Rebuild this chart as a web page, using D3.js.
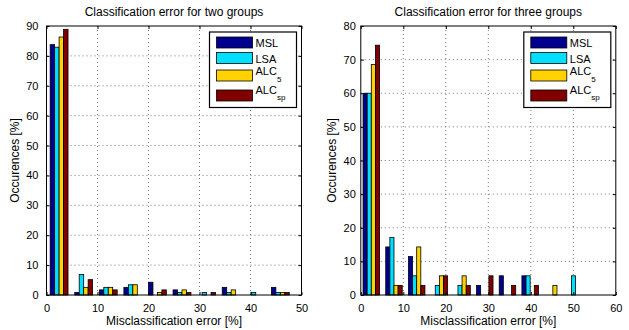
<!DOCTYPE html>
<html>
<head>
<meta charset="utf-8">
<script src="https://cdn.jsdelivr.net/npm/d3@7"></script>
<style>
  body { margin: 0; background: #fff; }
  text { font-family: "Liberation Sans", Arial, sans-serif; fill: #000; }
</style>
</head>
<body>
<div id="chart"></div>
<script>
// series names and colours
const seriesNames = ["MSL", "LSA", "ALC5", "ALCsp"];
const seriesColours = ["#00008f", "#00dfff", "#ffd200", "#800000"];

// two groups: bin centres and occurrences [%]
const twoCentres = [2.47, 7.29, 12.11, 16.93, 21.75, 26.57, 31.39, 36.21, 41.03, 45.85];
const twoMSL   = [83.76, 0.85, 1.71, 2.56, 4.27, 1.71, 0, 2.56, 0, 2.56];
const twoLSA   = [82.91, 6.84, 2.56, 3.42, 0, 0.85, 0.85, 0.85, 0.85, 0.85];
const twoALC5  = [86.32, 2.56, 2.56, 3.42, 0.85, 1.71, 0, 1.71, 0, 0.85];
const twoALCsp = [88.89, 5.13, 1.71, 0, 1.71, 0.85, 0.85, 0, 0, 0.85];
const twoXTicks = [0, 10, 20, 30, 40, 50];
const twoYTicks = [0, 10, 20, 30, 40, 50, 60, 70, 80, 90];

// three groups
const threeCentres = [2.47, 7.81, 13.15, 18.49, 23.83, 29.17, 34.51, 39.85, 45.19, 50.53];
const threeMSL   = [60, 14.29, 11.43, 0, 0, 2.86, 5.71, 5.71, 0, 0];
const threeLSA   = [60, 17.14, 5.71, 2.86, 2.86, 0, 0, 5.71, 0, 5.71];
const threeALC5  = [68.57, 2.86, 14.29, 5.71, 5.71, 0, 0, 0, 2.86, 0];
const threeALCsp = [74.29, 2.86, 2.86, 5.71, 2.86, 5.71, 2.86, 2.86, 0, 0];
const threeXTicks = [0, 10, 20, 30, 40, 50, 60];
const threeYTicks = [0, 10, 20, 30, 40, 50, 60, 70, 80];

const svg = d3.select("#chart").append("svg")
    .attr("width", 629)
    .attr("height", 330);

function drawPanel(p) {
  let x = d3.scaleLinear().domain([0, p.xTicks[p.xTicks.length - 1]]).range([p.left, p.right]);
  let y = d3.scaleLinear().domain([0, p.yTicks[p.yTicks.length - 1]]).range([p.bottom, p.top]);
  let g = svg.append("g");

  // grid (dotted)
  g.selectAll(".vgrid").data(p.xTicks.slice(1, -1)).enter().append("line")
      .attr("x1", d => x(d)).attr("x2", d => x(d))
      .attr("y1", p.top).attr("y2", p.bottom)
      .attr("stroke", "#555").attr("stroke-width", 0.8).attr("stroke-dasharray", "1,3");
  g.selectAll(".hgrid").data(p.yTicks.slice(1, -1)).enter().append("line")
      .attr("y1", d => y(d)).attr("y2", d => y(d))
      .attr("x1", p.left).attr("x2", p.right)
      .attr("stroke", "#555").attr("stroke-width", 0.8).attr("stroke-dasharray", "1,3");

  // bars (grouped, touching)
  let binWidth = p.centres[1] - p.centres[0];
  let barW = binWidth * 0.727 / 4;
  p.series.forEach((vals, s) => {
    let pts = vals.map((v, i) => ({ v: v, c: p.centres[i] })).filter(d => d.v > 0);
    g.selectAll(".bar" + s).data(pts).enter().append("rect")
        .attr("x", d => x(d.c + (s - 2) * barW))
        .attr("width", x(barW) - x(0))
        .attr("y", d => y(d.v))
        .attr("height", d => y(0) - y(d.v))
        .attr("fill", seriesColours[s])
        .attr("stroke", "#000").attr("stroke-width", 0.8);
  });

  // frame
  g.append("rect")
      .attr("x", p.left).attr("y", p.top)
      .attr("width", p.right - p.left).attr("height", p.bottom - p.top)
      .attr("fill", "none").attr("stroke", "#000").attr("stroke-width", 1);

  // axes with inward ticks on all sides
  g.append("g").attr("transform", "translate(0," + p.bottom + ")")
      .call(d3.axisBottom(x).tickValues(p.xTicks).tickSizeInner(-3).tickSizeOuter(0).tickPadding(9))
      .call(a => a.select(".domain").remove())
      .call(a => a.selectAll("text").attr("font-size", 11).attr("font-family", "Liberation Sans, Arial"));
  g.append("g").attr("transform", "translate(0," + p.top + ")")
      .call(d3.axisTop(x).tickValues(p.xTicks).tickSizeInner(-3).tickSizeOuter(0).tickFormat(""))
      .call(a => a.select(".domain").remove());
  g.append("g").attr("transform", "translate(" + p.left + ",0)")
      .call(d3.axisLeft(y).tickValues(p.yTicks).tickSizeInner(-3).tickSizeOuter(0).tickPadding(p.yPad))
      .call(a => a.select(".domain").remove())
      .call(a => a.selectAll("text").attr("font-size", 11).attr("font-family", "Liberation Sans, Arial"));
  g.append("g").attr("transform", "translate(" + p.right + ",0)")
      .call(d3.axisRight(y).tickValues(p.yTicks).tickSizeInner(-3).tickSizeOuter(0).tickFormat(""))
      .call(a => a.select(".domain").remove());

  // labels
  let cx = (p.left + p.right) / 2;
  g.append("text").attr("x", cx).attr("y", 16).attr("text-anchor", "middle")
      .attr("font-size", 12).text(p.title);
  g.append("text").attr("x", cx).attr("y", 325).attr("text-anchor", "middle")
      .attr("font-size", 12).text("Misclassification error [%]");
  g.append("text")
      .attr("transform", "translate(" + p.yLabelX + "," + ((p.top + p.bottom) / 2) + ") rotate(-90)")
      .attr("text-anchor", "middle").attr("font-size", 12).text("Occurences [%]");

  // legend
  let lx = p.right - 92, ly = 32;
  let leg = g.append("g").attr("transform", "translate(" + lx + "," + ly + ")");
  leg.append("rect").attr("width", 87).attr("height", 75.5)
      .attr("fill", "#fff").attr("stroke", "#000").attr("stroke-width", 1.2);
  let rowTop = [5, 20.5, 38, 58];
  let rowBase = [15, 31, 43, 62];
  seriesNames.forEach((name, s) => {
    leg.append("rect").attr("x", 7).attr("y", rowTop[s]).attr("width", 36).attr("height", 11)
        .attr("fill", seriesColours[s]).attr("stroke", "#000").attr("stroke-width", 0.8);
    let t = leg.append("text").attr("x", 46).attr("y", rowBase[s]).attr("font-size", 11);
    if (name.startsWith("ALC")) {
      t.append("tspan").text("ALC");
      t.append("tspan").attr("font-size", 8).attr("dy", name === "ALC5" ? 7 : 6).text(name.slice(3));
    } else {
      t.text(name);
    }
  });
}

drawPanel({
  title: "Classification error for two groups",
  left: 46.5, right: 301.5, top: 26, bottom: 295,
  centres: twoCentres, series: [twoMSL, twoLSA, twoALC5, twoALCsp],
  xTicks: twoXTicks, yTicks: twoYTicks, yPad: 8, yLabelX: 19
});

drawPanel({
  title: "Classification error for three groups",
  left: 360.8, right: 615.8, top: 26, bottom: 295,
  centres: threeCentres, series: [threeMSL, threeLSA, threeALC5, threeALCsp],
  xTicks: threeXTicks, yTicks: threeYTicks, yPad: 5, yLabelX: 336
});
</script>
</body>
</html>
